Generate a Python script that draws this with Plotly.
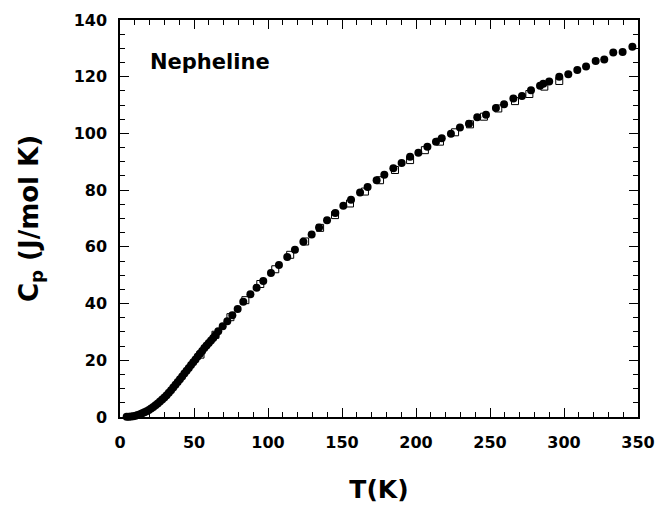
import plotly.graph_objects as go

# Heat capacity of nepheline, C_p (J/mol K) vs temperature T (K)

# Series 1: filled circles
t_circle = [4.5, 6, 7.5, 9, 10.5, 12, 13.5, 15, 16.5, 18, 19.5, 21, 22.5, 24, 25.5,
            27, 28.5, 30, 31.5, 33, 34.5, 36, 37.5, 39, 40.5, 42, 43.5, 45, 46.5,
            48, 49.5, 51, 52.5, 54, 55.5, 57, 58.5, 60, 61.5, 63, 64.5,
            66.4, 69.4, 72.5, 75.9, 79.5, 83.3, 88.1, 92.3, 96.8, 102, 107.4, 113,
            118.2, 123.9, 129.5, 134.5, 139.9, 145.5, 150.9, 156.1, 162.2, 167.3,
            173.4, 178.6, 184.7, 190.3, 196, 201.6, 207.7, 213.5, 217.4, 223.6,
            229.7, 235.8, 241.4, 247.3, 254, 259.5, 265.8, 271.6, 277.7, 283.8,
            286, 290, 296.8, 302.9, 309, 314.9, 321.4, 327.2, 333.3, 339.6, 346.2]
cp_circle = [0.05, 0.1, 0.18, 0.3, 0.48, 0.72, 1.0, 1.32, 1.68, 2.05, 2.5, 3.0, 3.55,
             4.15, 4.78, 5.45, 6.15, 6.9, 7.7, 8.55, 9.45, 10.4, 11.35, 12.3, 13.3,
             14.3, 15.3, 16.3, 17.3, 18.3, 19.3, 20.3, 21.3, 22.3, 23.3, 24.3, 25.2,
             26.1, 27.0, 27.9, 28.8,
             30.2, 32.0, 33.8, 35.9, 38.1, 40.6, 43.3, 45.6, 48.0, 50.8, 53.6, 56.4,
             59.0, 61.8, 64.4, 66.8, 69.4, 71.9, 74.5, 76.6, 79.2, 81.1,
             83.5, 85.4, 87.7, 89.6, 91.8, 93.2, 95.3, 97.1, 98.3, 99.9,
             102.1, 103.4, 105.7, 106.6, 109.0, 110.3, 112.3, 113.2, 115.2, 116.8,
             117.5, 118.3, 120.0, 120.9, 122.4, 123.6, 125.5, 126.1, 128.5, 128.7, 130.6]

# Series 2: open squares
t_square = [54.4, 64.5, 74.6, 84.7, 94.8, 104.9, 115.0, 125.1, 135.2, 145.3, 155.4,
            165.5, 175.7, 185.8, 196.0, 206.0, 216.2, 226.4, 236.5, 245.9, 255.6,
            266.9, 276.6, 286.7, 296.8]
cp_square = [22.0, 29.0, 35.2, 41.2, 46.9, 52.1, 57.2, 61.9, 66.7, 71.2, 75.3,
             79.5, 83.5, 87.1, 90.6, 94.1, 97.1, 100.4, 103.2, 105.9, 108.8,
             111.4, 113.9, 116.5, 118.5]

x_ticks = [0, 50, 100, 150, 200, 250, 300, 350]
y_ticks = [0, 20, 40, 60, 80, 100, 120, 140]
x_range = [0, 350]
y_range = [0, 140]

FONT = "DejaVu Sans"

fig = go.Figure()
fig.add_trace(go.Scatter(
    x=t_square, y=cp_square, mode="markers",
    marker=dict(symbol="square-open", size=7, color="black", line=dict(width=1)),
    showlegend=False, cliponaxis=False,
))
fig.add_trace(go.Scatter(
    x=t_circle, y=cp_circle, mode="markers",
    marker=dict(symbol="circle", size=8, color="black"),
    showlegend=False, cliponaxis=False,
))
# invisible copy on the top/right axes so those frame axes get drawn
fig.add_trace(go.Scatter(
    x=t_circle, y=cp_circle, mode="markers", xaxis="x2", yaxis="y2",
    marker=dict(size=1, opacity=0), hoverinfo="skip", showlegend=False,
))

tick_style = dict(ticks="inside", ticklen=9, tickwidth=1, tickcolor="black",
                  showgrid=False, zeroline=False, automargin=False)
tick_font = dict(family=FONT, size=16, color="black", weight="bold")
x_minor = dict(dtick=10, ticks="inside", ticklen=5, tickwidth=1, tickcolor="black")
y_minor = dict(dtick=5, ticks="inside", ticklen=5, tickwidth=1, tickcolor="black")

fig.update_layout(
    width=660, height=508,
    margin=dict(l=120, r=22, t=20, b=91),
    paper_bgcolor="white", plot_bgcolor="white",
    xaxis=dict(
        range=x_range, tickvals=x_ticks, ticktext=[str(v) for v in x_ticks],
        showline=True, linecolor="black", linewidth=1.5, mirror=True,
        minor=x_minor, tickfont=tick_font, ticklabelstandoff=10,
        title=dict(text="<b>T(K)</b>", font=dict(family=FONT, size=25, color="black"),
                   standoff=30),
        **tick_style,
    ),
    yaxis=dict(
        range=y_range, tickvals=y_ticks, ticktext=[str(v) for v in y_ticks],
        showline=True, linecolor="black", linewidth=1.5, mirror=True,
        minor=y_minor, tickfont=tick_font, ticklabelstandoff=8,
        title=dict(text="<b>C<sub>p</sub> (J/mol K)</b>",
                   font=dict(family=FONT, size=26, color="black"), standoff=28),
        **tick_style,
    ),
    xaxis2=dict(
        range=x_range, overlaying="x", side="top", tickvals=x_ticks,
        showticklabels=False, showline=False, minor=x_minor, **tick_style,
    ),
    yaxis2=dict(
        range=y_range, overlaying="y", side="right", tickvals=y_ticks,
        showticklabels=False, showline=False, minor=y_minor, **tick_style,
    ),
)

fig.add_annotation(
    x=0.054, y=0.893, xref="paper", yref="paper", xanchor="left", yanchor="middle",
    text="<b>Nepheline</b>", showarrow=False,
    font=dict(family=FONT, size=21, color="black"),
)

fig.write_html("out.html")
